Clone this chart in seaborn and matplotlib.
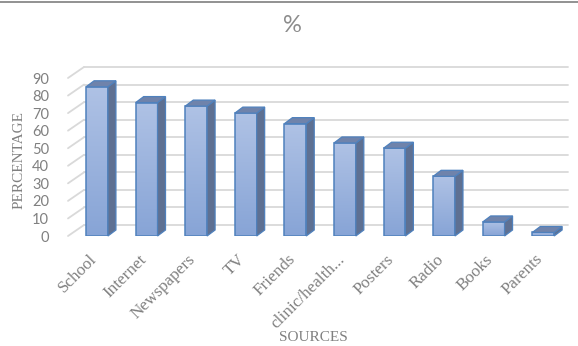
import numpy as np
import pandas as pd
import seaborn as sns
import matplotlib.pyplot as plt
from matplotlib.transforms import IdentityTransform, ScaledTranslation
from matplotlib.patches import Polygon
from matplotlib.lines import Line2D
from matplotlib.colors import LinearSegmentedColormap

categories = ["School", "Internet", "Newspapers", "TV", "Friends",
              "clinic/health...", "Posters", "Radio", "Books", "Parents"]
values = [85, 76, 74, 70, 64, 53, 50, 34, 8, 2]
y_ticks = [0, 10, 20, 30, 40, 50, 60, 70, 80, 90]
title = "%"
x_title = "SOURCES"
y_title = "PERCENTAGE"

sns.set_theme(style="white")
W, H, DPI = 578, 346, 100
fig = plt.figure(figsize=(W / DPI, H / DPI), dpi=DPI)
fig.patch.set_facecolor("white")
ax = fig.add_axes([70 / W, 1 - 236 / H, (568 - 70) / W, (236 - 78) / H])
ax.patch.set_alpha(0)

df = pd.DataFrame({"source": categories, "pct": values})
sns.barplot(data=df, x="source", y="pct", ax=ax, width=0.44,
            color="#95b0dc", edgecolor="#4f81bd", linewidth=1.1,
            saturation=1, zorder=4)
ax.set_xlim(-0.545, 9.5)
ax.set_ylim(0, 90)

gray = "#808080"
serif = "Liberation Serif"

ax.set_yticks(y_ticks)
ax.set_yticklabels([str(v) for v in y_ticks], family="Lato", fontsize=10.5, color=gray)
ax.tick_params(axis="y", length=0, pad=15)
ax.tick_params(axis="x", length=0, pad=11)
shift = ScaledTranslation(-6 / 72, 0, fig.dpi_scale_trans)
for lab in ax.get_xticklabels():
    lab.set_rotation(45)
    lab.set_ha("right")
    lab.set_va("top")
    lab.set_rotation_mode("anchor")
    lab.set_family(serif)
    lab.set_fontsize(12.3)
    lab.set_color(gray)
    lab.set_transform(lab.get_transform() + shift)
for s in ax.spines.values():
    s.set_visible(False)
ax.grid(False)

ax.set_xlabel(x_title, family=serif, fontsize=11, color=gray, va="top")
ax.xaxis.set_label_coords((313 - 70) / 498, (236 - 331) / 158)
ax.set_ylabel(y_title, family=serif, fontsize=11, color=gray)
ax.yaxis.set_label_coords((26 - 70) / 498, (236 - 160) / 158)

fig.text(292 / W, 1 - 26 / H, title, ha="center", va="center",
         fontsize=17, color="#8c8c8c", family="Lato")

# back-wall gridlines (3D look)
T = ax.transData
ident = IdentityTransform()
gdx, gdy = 14, 11
xl, xr = ax.get_xlim()
for v in y_ticks:
    Xl, Yv = T.transform((xl, v))
    Xr, _ = T.transform((xr, v))
    ax.add_artist(Line2D([Xl - 2, Xl + gdx], [Yv, Yv + gdy], transform=ident,
                         color="#d9d9d9", lw=1.3, zorder=1, clip_on=False))
    ax.add_artist(Line2D([Xl + gdx, Xr], [Yv + gdy, Yv + gdy], transform=ident,
                         color="#d9d9d9", lw=1.3, zorder=1, clip_on=False))

# gradient faces and 3D sides
cmap = LinearSegmentedColormap.from_list("g", ["#87a4d6", "#afc2e5"])
grad = np.linspace(0, 1, 256).reshape(-1, 1)
bdx, bdy = 8, 6
for p in list(ax.patches):
    x0 = p.get_x()
    w = p.get_width()
    h = p.get_height()
    im = ax.imshow(grad, extent=[x0, x0 + w, 0, h], origin="lower",
                   cmap=cmap, aspect="auto", zorder=3, interpolation="bilinear")
    im.set_clip_path(p)
    p.set_facecolor("none")
    X0, Y0 = T.transform((x0, 0))
    X1, Y1 = T.transform((x0 + w, h))
    side = Polygon([(X1, Y0), (X1 + bdx, Y0 + bdy), (X1 + bdx, Y1 + bdy), (X1, Y1)],
                   closed=True, transform=ident, facecolor="#5e7092",
                   edgecolor="#4f81bd", lw=0.9, zorder=5, clip_on=False)
    top = Polygon([(X0, Y1), (X0 + bdx, Y1 + bdy), (X1 + bdx, Y1 + bdy), (X1, Y1)],
                  closed=True, transform=ident, facecolor="#6f83ab",
                  edgecolor="#4f81bd", lw=0.9, zorder=5, clip_on=False)
    ax.add_artist(side)
    ax.add_artist(top)

ax.set_xlim(xl, xr)
ax.set_ylim(0, 90)

fig.add_artist(Line2D([0, 1], [1 - 1.5 / H, 1 - 1.5 / H], transform=fig.transFigure,
                      color="#7f7f7f", lw=1.2))

fig.savefig("out.png", dpi=DPI)
